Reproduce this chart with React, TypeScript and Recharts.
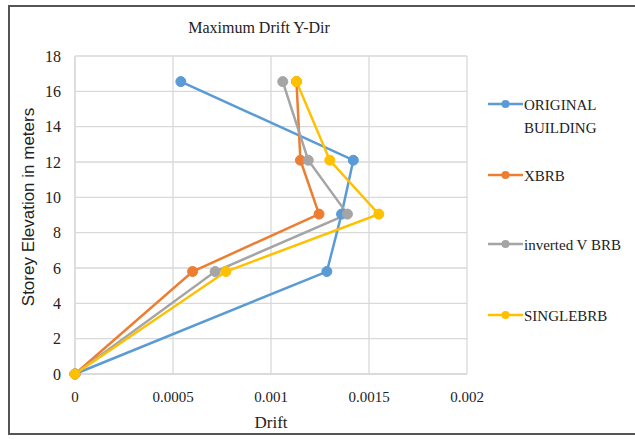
import { LineChart, Line, XAxis, YAxis, CartesianGrid } from 'recharts';

const elevations = [0, 5.8, 9.05, 12.1, 16.55];

const originalDrift = [0, 0.001285, 0.00136, 0.00142, 0.00054];
const xbrbDrift = [0, 0.0006, 0.001245, 0.00115, 0.00113];
const invertedVDrift = [0, 0.000715, 0.00139, 0.00119, 0.00106];
const singleDrift = [0, 0.00077, 0.00155, 0.0013, 0.00113];

const xTicks = [0, 0.0005, 0.001, 0.0015, 0.002];
const yTicks = [0, 2, 4, 6, 8, 10, 12, 14, 16, 18];

const seriesNames = ['ORIGINAL BUILDING', 'XBRB', 'inverted V BRB', 'SINGLEBRB'];
const seriesColors = ['#5B9BD5', '#ED7D31', '#A5A5A5', '#FFC000'];
const seriesDrift = [originalDrift, xbrbDrift, invertedVDrift, singleDrift];

const FONT = '"Liberation Serif", "Times New Roman", serif';

const series = seriesNames.map((name, i) => ({
  name,
  color: seriesColors[i],
  data: elevations.map((e, j) => ({ drift: seriesDrift[i][j], elev: e })),
}));

// legend rows sit at these tops (px)
const legendTops = [94, 165, 234, 305];

function fmtX(v: number) {
  return v === 0 ? '0' : String(v);
}

export default function App() {
  return (
    <div style={{ position: 'absolute', left: 0, top: 0, width: 635, height: 439, overflow: 'hidden', background: '#fff', fontFamily: FONT }}>
      <style>{`.drift-chart text, .drift-chart tspan { font-family: "Liberation Serif", serif !important; }`}</style>
      <div style={{ position: 'absolute', left: 8, top: 5, width: 640, height: 426, border: '2px solid #555' }} />
      <div style={{ position: 'absolute', left: 159, top: 19, width: 200, textAlign: 'center', fontSize: 16, color: '#222' }}>
        Maximum Drift Y-Dir
      </div>
      <div className="drift-chart" style={{ position: 'absolute', left: 0, top: 0 }}>
        <LineChart width={635} height={439} margin={{ top: 56, right: 168, bottom: 25, left: 20 }}>
          <CartesianGrid stroke="#d9d9d9" strokeWidth={1.3} />
          <XAxis
            type="number"
            dataKey="drift"
            domain={[0, 0.002]}
            ticks={xTicks}
            tickFormatter={fmtX}
            height={40}
            tickLine={false}
            axisLine={{ stroke: '#d9d9d9', strokeWidth: 1.3 }}
            tickMargin={11}
            tick={{ fill: '#222', fontSize: 15 }}
            label={{ value: 'Drift', position: 'insideBottom', offset: -14, fill: '#222', fontSize: 17 }}
          />
          <YAxis
            type="number"
            dataKey="elev"
            domain={[0, 18]}
            ticks={yTicks}
            width={55}
            tickLine={false}
            axisLine={{ stroke: '#d9d9d9', strokeWidth: 1.3 }}
            tickMargin={8}
            tick={{ fill: '#222', fontSize: 16 }}
          />
          {series.map((s) => (
            <Line
              key={s.name}
              data={s.data}
              dataKey="elev"
              type="linear"
              stroke={s.color}
              strokeWidth={2.5}
              dot={{ r: 5, fill: s.color, stroke: s.color, strokeWidth: 1 }}
              isAnimationActive={false}
            />
          ))}
        </LineChart>
      </div>
      <div
        style={{
          position: 'absolute', left: 29, top: 207, whiteSpace: 'nowrap', fontSize: 17,
          fontFamily: '"Liberation Sans", Arial, sans-serif', color: '#222',
          transform: 'translate(-50%, -50%) rotate(-90deg)',
        }}
      >
        Storey Elevation in meters
      </div>
      {series.map((s, i) => (
        <div key={s.name} style={{ position: 'absolute', left: 488, top: legendTops[i], display: 'flex', alignItems: 'flex-start', fontSize: 15, color: '#222' }}>
          <svg width={36} height={20} style={{ flexShrink: 0 }}>
            <line x1={0} y1={10} x2={35} y2={10} stroke={s.color} strokeWidth={2.5} />
            <circle cx={17.5} cy={10} r={4} fill={s.color} />
          </svg>
          <div style={{ lineHeight: '23px', width: i === 0 ? 80 : 120 }}>{s.name}</div>
        </div>
      ))}
    </div>
  );
}
